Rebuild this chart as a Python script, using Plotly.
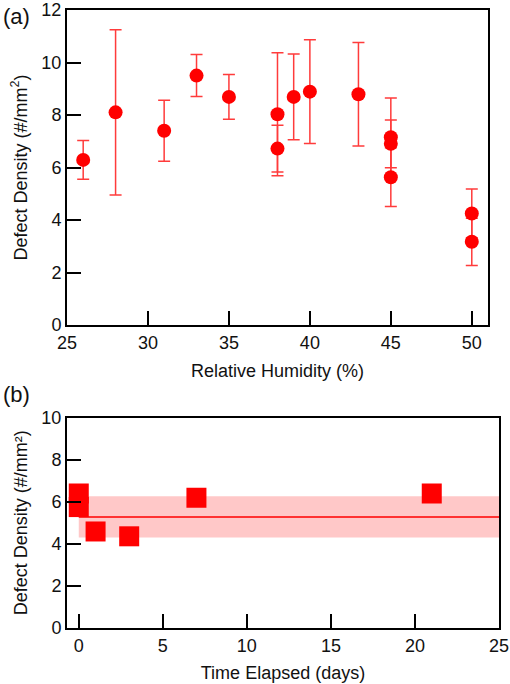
import plotly.graph_objects as go

# Panel (a): defect density vs relative humidity
humidity = [26, 28, 31, 33, 35, 38, 38, 39, 40, 43, 45, 45, 45, 50, 50]
density_a = [6.29, 8.10, 7.40, 9.50, 8.69, 8.03, 6.72, 8.69, 8.89, 8.79, 7.15, 6.90, 5.63, 4.25, 3.17]
err_a = [0.74, 3.15, 1.16, 0.80, 0.85, 2.34, 0.89, 1.63, 1.98, 1.97, 1.50, 0.91, 1.12, 0.93, 0.90]

# Panel (b): defect density vs time elapsed
days = [0, 0, 1, 3, 7, 21]
density_b = [6.40, 5.75, 4.59, 4.36, 6.19, 6.40]
fit_range = [0, 25]
fit_mean = 5.28
fit_sd = 0.98

FONT = "Arial, Liberation Sans, sans-serif"
RED = "#ff0000"

fig = go.Figure()

fig.add_trace(go.Scatter(
    x=humidity, y=density_a, mode="markers",
    marker=dict(symbol="circle", size=14, color=RED),
    error_y=dict(type="data", array=err_a, visible=True, color="#ff3b3b", thickness=1.5, width=6),
    xaxis="x", yaxis="y", showlegend=False,
))

# band (mean ± sd)
fig.add_trace(go.Scatter(
    x=fit_range, y=[fit_mean - fit_sd] * 2, mode="lines",
    line=dict(width=0, color="rgba(0,0,0,0)"), xaxis="x2", yaxis="y2", showlegend=False,
))
fig.add_trace(go.Scatter(
    x=fit_range, y=[fit_mean + fit_sd] * 2, mode="lines",
    line=dict(width=0, color="rgba(0,0,0,0)"), fill="tonexty", fillcolor="rgb(255,200,200)",
    xaxis="x2", yaxis="y2", showlegend=False,
))
fig.add_trace(go.Scatter(
    x=fit_range, y=[fit_mean] * 2, mode="lines",
    line=dict(width=1.5, color=RED), xaxis="x2", yaxis="y2", showlegend=False,
))
fig.add_trace(go.Scatter(
    x=days, y=density_b, mode="markers",
    marker=dict(symbol="square", size=20, color=RED),
    xaxis="x2", yaxis="y2", showlegend=False,
))

axis_common = dict(
    showline=True, linecolor="black", linewidth=2, mirror=True,
    ticks="inside", ticklen=14, tickwidth=2, tickcolor="black",
    showgrid=False, zeroline=False, automargin=False,
    tickfont=dict(family=FONT, size=18, color="#111"),
    title_font=dict(family=FONT, size=18, color="#111"),
)

fig.update_layout(
    width=510, height=684,
    margin=dict(l=67, r=11, t=10, b=56),
    plot_bgcolor="white", paper_bgcolor="white",
    xaxis=dict(domain=[0, 0.9745], range=[25, 51], tickvals=[25, 30, 35, 40, 45, 50],
               anchor="y", title=dict(text="Relative Humidity (%)", standoff=13), **axis_common),
    yaxis=dict(domain=[0.4903, 1], range=[0, 12], tickvals=[0, 2, 4, 6, 8, 10, 12],
               anchor="x", title=dict(text="Defect Density (#/mm<sup>2</sup>)", standoff=9), **axis_common),
    xaxis2=dict(domain=[0, 1], range=[-0.7, 25], tickvals=[0, 5, 10, 15, 20, 25],
                anchor="y2", title=dict(text="Time Elapsed (days)", standoff=12), **axis_common),
    yaxis2=dict(domain=[0, 0.3403], range=[0, 10], tickvals=[0, 2, 4, 6, 8, 10],
                anchor="x2", title=dict(text="Defect Density (#/mm²)", standoff=9), **axis_common),
    annotations=[
        dict(text="(a)", x=-0.152, y=0.990, xref="paper", yref="paper", xanchor="left", yanchor="middle",
             showarrow=False, font=dict(family=FONT, size=22, color="#111")),
        dict(text="(b)", x=-0.152, y=0.3786, xref="paper", yref="paper", xanchor="left", yanchor="middle",
             showarrow=False, font=dict(family=FONT, size=22, color="#111")),
    ],
)

fig.write_html(
    "out.html",
    config={"displayModeBar": False},
    post_script="document.body.style.margin='0';document.body.style.overflow='hidden';",
)
